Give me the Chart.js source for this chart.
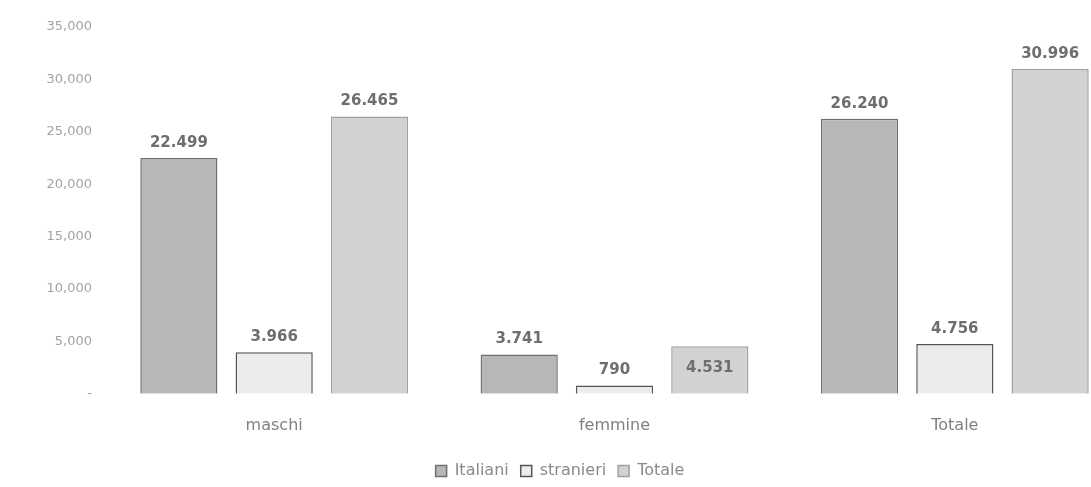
<!DOCTYPE html>
<html>
<head>
<meta charset="utf-8">
<script src="https://cdn.jsdelivr.net/npm/chart.js@4.4.1/dist/chart.umd.min.js"></script>
<style>
  html, body { margin: 0; padding: 0; background: #ffffff; overflow: hidden; }
  #wrap { width: 1091px; height: 487px; position: relative; overflow: hidden; }
  #c { position: absolute; left: 0; top: 0; }
</style>
</head>
<body>
<div id="wrap"><canvas id="c" width="1125" height="487"></canvas></div>
<script>
const categories = ['maschi', 'femmine', 'Totale'];
const italiani = [22499, 3741, 26240];
const stranieri = [3966, 790, 4756];
const totale = [26465, 4531, 30996];
const seriesNames = ['Italiani', 'stranieri', 'Totale'];
const yTicks = [0, 5000, 10000, 15000, 20000, 25000, 30000, 35000];

function fmt(v, sep) {
  return String(v).replace(/\B(?=(\d{3})+(?!\d))/g, sep);
}

const FONT = '"DejaVu Sans", "Liberation Sans", sans-serif';

const labelPlugin = {
  id: 'barLabels',
  afterDatasetsDraw(chart) {
    const ctx = chart.ctx;
    ctx.save();
    ctx.font = 'bold 15px ' + FONT;
    ctx.fillStyle = '#6e6e6e';
    ctx.textAlign = 'center';
    ctx.textBaseline = 'middle';
    chart.data.datasets.forEach((ds, di) => {
      const meta = chart.getDatasetMeta(di);
      meta.data.forEach((bar, i) => {
        const v = ds.data[i];
        const h = bar.base - bar.y;
        let y = bar.y - 15;
        // the small total bar carries its label inside the bar
        if (di === 2 && h < 60) y = bar.y + 22;
        ctx.fillText(fmt(v, '.'), bar.x, y);
      });
    });
    ctx.restore();
  }
};

const legendShift = {
  id: 'legendShift',
  afterLayout(chart) {
    const lg = chart.legend;
    if (!lg) return;
    const dx = 560 - (lg.left + lg.right) / 2;
    const dy = 470 - (lg.top + lg.bottom) / 2;
    lg.left += dx; lg.right += dx;
    lg.top += dy; lg.bottom += dy;
  }
};

new Chart(document.getElementById('c'), {
  type: 'bar',
  data: {
    labels: categories,
    datasets: [
      { label: seriesNames[0], data: italiani, backgroundColor: '#b7b7b7', borderColor: '#6f6f6f', borderWidth: 1.5 },
      { label: seriesNames[1], data: stranieri, backgroundColor: '#ececec', borderColor: '#555555', borderWidth: 1.5 },
      { label: seriesNames[2], data: totale, backgroundColor: '#d2d2d2', borderColor: '#a0a0a0', borderWidth: 1.5 }
    ]
  },
  options: {
    responsive: false,
    animation: false,
    devicePixelRatio: 1,
    layout: { padding: { top: 27, right: 0, bottom: 0, left: 0 } },
    datasets: { bar: { categoryPercentage: 0.84, barPercentage: 0.81 } },
    scales: {
      x: {
        grid: { display: false },
        border: { display: false },
        ticks: { color: '#808080', font: { family: FONT, size: 16 }, padding: 14 }
      },
      y: {
        min: 0, max: 35000,
        afterFit(scale) { scale.width = 104; },
        afterBuildTicks(scale) { scale.ticks = yTicks.map(v => ({ value: v })); },
        grid: { display: false, drawTicks: false },
        border: { display: false },
        ticks: {
          color: '#a3a3a3',
          font: { family: FONT, size: 13 },
          padding: 12,
          callback: v => v === 0 ? '-' : fmt(v, ',')
        }
      }
    },
    plugins: {
      legend: {
        position: 'bottom',
        labels: {
          color: '#8a8a8a',
          font: { family: FONT, size: 16 },
          boxWidth: 11, boxHeight: 11, padding: 12,
          useBorderRadius: false
        }
      },
      tooltip: { enabled: false }
    }
  },
  plugins: [labelPlugin, legendShift]
});
</script>
</body>
</html>
